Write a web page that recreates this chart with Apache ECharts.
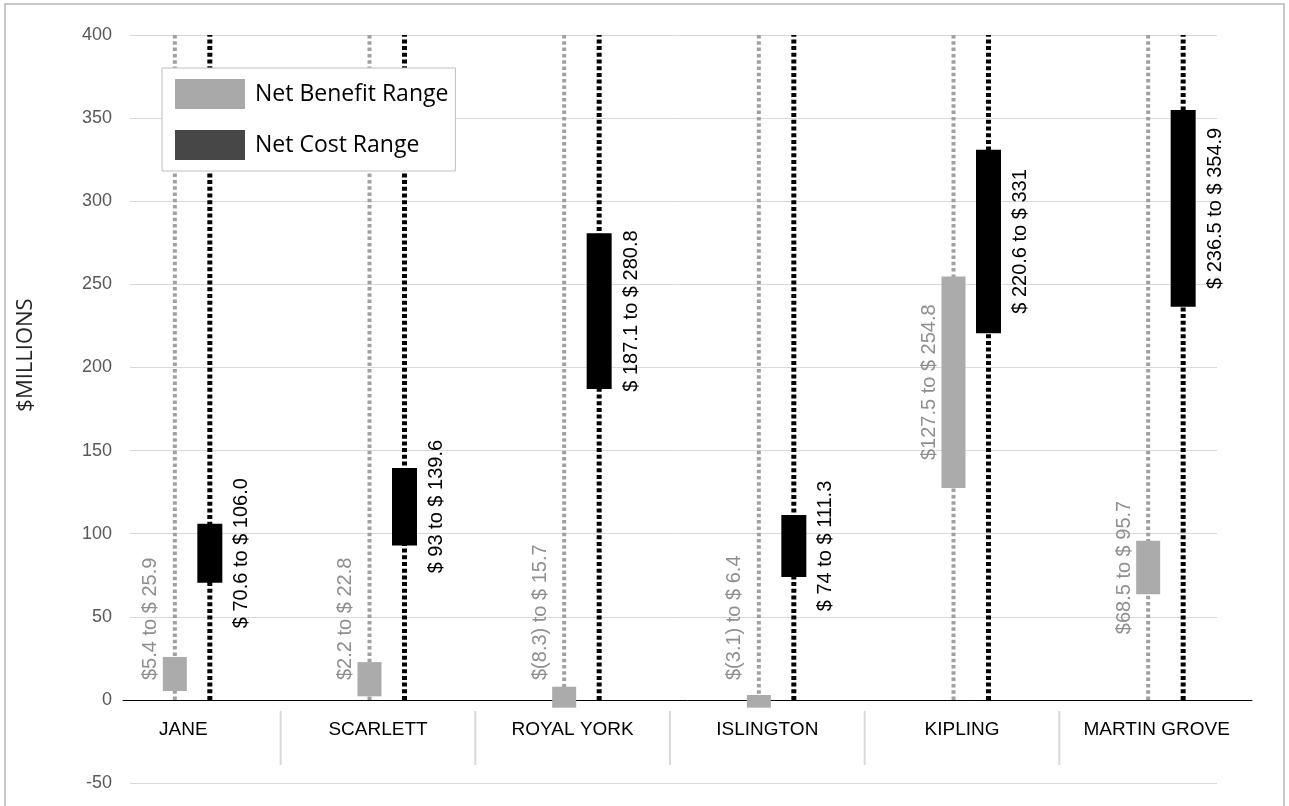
<!DOCTYPE html>
<html>
<head>
<meta charset="utf-8">
<script src="https://cdn.jsdelivr.net/npm/echarts@6/dist/echarts.min.js"></script>
<style>
html,body{margin:0;padding:0;background:#fff;}
#chart{width:1289px;height:806px;}
</style>
</head>
<body>
<div id="chart"></div>
<script>
// ---- data ----
const categories = ['JANE', 'SCARLETT', 'ROYAL YORK', 'ISLINGTON', 'KIPLING', 'MARTIN GROVE'];
const benefitLow  = [5.4, 2.2, -4.6, -4.6, 127.5, 63.6];
const benefitHigh = [25.9, 22.8, 8.0, 3.0, 254.8, 95.8];
const benefitLabels = ['$5.4 to $ 25.9', '$2.2 to $ 22.8', '$(8.3) to $ 15.7', '$(3.1) to $ 6.4', '$127.5 to $ 254.8', '$68.5 to $ 95.7'];
const costLow  = [70.6, 93, 187.1, 74, 220.6, 236.5];
const costHigh = [106.0, 139.6, 280.8, 111.3, 331, 354.9];
const costLabels = ['$ 70.6 to $ 106.0', '$ 93 to $ 139.6', '$ 187.1 to $ 280.8', '$ 74 to $ 111.3', '$ 220.6 to $ 331', '$ 236.5 to $ 354.9'];
const yMin = -50, yMax = 400, yInterval = 50;
const seriesNames = ['Net Benefit Range', 'Net Cost Range'];

// ---- helpers ----
const LABEL_FONT = '20px "Liberation Sans", Arial, sans-serif';
const mctx = document.createElement('canvas').getContext('2d');
function textW(t) { mctx.font = LABEL_FONT; return mctx.measureText(t).width; }
const PAIR_SHIFT = 9;

function makeRender(lows, highs, labels, cfg) {
  return function (params, api) {
    const i = api.value(0);
    const zero = api.coord([i, 0]);
    const top = api.coord([i, yMax]);
    const pLow = api.coord([i, api.value(1)]);
    const pHigh = api.coord([i, api.value(2)]);
    const x = zero[0] + PAIR_SHIFT + cfg.offset;
    const label = labels[i];
    const w = textW(label);
    let cy = (pLow[1] + pHigh[1]) / 2;
    if (cfg.clamp && cy + w / 2 > zero[1] - 20) cy = zero[1] - 20 - w / 2;
    return {
      type: 'group',
      children: [
        { type: 'line', shape: { x1: x, y1: zero[1], x2: x, y2: top[1] },
          style: { stroke: cfg.lineColor, lineWidth: cfg.lineWidth, lineDash: cfg.dash, lineCap: 'butt' } },
        { type: 'rect', shape: { x: x - cfg.barW / 2, y: pHigh[1], width: cfg.barW, height: pLow[1] - pHigh[1] },
          style: { fill: cfg.barColor } },
        { type: 'text', x: x + cfg.labelDx, y: cy, rotation: Math.PI / 2,
          style: { text: label, font: LABEL_FONT, fill: cfg.textColor, align: 'center', verticalAlign: 'middle' } }
      ]
    };
  };
}

function separatorRender(params, api) {
  const i = api.value(0);
  const c = api.coord([i, 0]);
  const band = api.size([1, 0])[0];
  const x = c[0] + band / 2;
  return { type: 'line', shape: { x1: x, y1: c[1] + 11, x2: x, y2: c[1] + 65 },
           style: { stroke: '#d9d9d9', lineWidth: 2 } };
}

const benefitData = categories.map((c, i) => [i, benefitLow[i], benefitHigh[i]]);
const costData = categories.map((c, i) => [i, costLow[i], costHigh[i]]);
const sepData = categories.slice(0, -1).map((c, i) => [i, 0]);

const chart = echarts.init(document.getElementById('chart'));
chart.setOption({
  animation: false,
  backgroundColor: '#fff',
  grid: [
    // full-range grid carrying the y axis and its gridlines (-50 .. 400)
    { left: 130, right: 72, top: 35, bottom: 23, outerBoundsMode: 'none', containLabel: false },
    // category grid whose bottom edge is the zero line (0 .. 400)
    { left: 86, right: 35, top: 35, bottom: 106, outerBoundsMode: 'none', containLabel: false },
    // grid only used to draw the zero axis line
    { left: 123, right: 37, top: 35, bottom: 106, outerBoundsMode: 'none', containLabel: false }
  ],
  xAxis: [
    { type: 'value', gridIndex: 0, show: false, min: 0, max: 1 },
    { type: 'category', gridIndex: 1, data: categories, boundaryGap: true, position: 'bottom',
      axisLine: { show: false, onZero: false },
      axisTick: { show: false },
      axisLabel: { color: '#000', fontSize: 19, margin: 20, fontFamily: '"Liberation Sans", Arial, sans-serif' } },
    { type: 'value', gridIndex: 2, min: 0, max: 1, position: 'bottom',
      axisLine: { show: true, onZero: false, lineStyle: { color: '#000', width: 1 } },
      axisTick: { show: false }, axisLabel: { show: false }, splitLine: { show: false } }
  ],
  yAxis: [
    { type: 'value', gridIndex: 0, min: yMin, max: yMax, interval: yInterval,
      axisLine: { show: false }, axisTick: { show: false },
      axisLabel: { color: '#595959', fontSize: 18, margin: 18, fontFamily: '"Liberation Sans", Arial, sans-serif' },
      splitLine: { lineStyle: { color: '#d9d9d9', width: 1 } } },
    { type: 'value', gridIndex: 1, min: 0, max: yMax, interval: yInterval, show: false,
      splitLine: { show: false } },
    { type: 'value', gridIndex: 2, min: 0, max: yMax, show: false, splitLine: { show: false } }
  ],
  legend: {
    orient: 'vertical', left: 162, top: 68,
    padding: [11, 7, 11, 13], itemGap: 21, itemWidth: 70, itemHeight: 30,
    borderColor: '#c0c0c0', borderWidth: 1, backgroundColor: '#fff',
    icon: 'rect',
    textStyle: { fontSize: 23, color: '#000', fontFamily: '"Open Sans", "Noto Sans", sans-serif', padding: [0, 0, 0, 5] },
    data: [
      { name: seriesNames[0], itemStyle: { color: '#a9a9a9' } },
      { name: seriesNames[1], itemStyle: { color: '#474747' } }
    ]
  },
  graphic: [
    { type: 'rect', shape: { x: 5, y: 4, width: 1279, height: 812 }, style: { fill: 'none', stroke: '#c8c8c8', lineWidth: 2 }, z: 100 },
    { type: 'text', x: 26, y: 355, rotation: Math.PI / 2,
      style: { text: '$MILLIONS', font: '22px "Open Sans", "Noto Sans", sans-serif', fill: '#262626', align: 'center', verticalAlign: 'middle' } }
  ],
  series: [
    { type: 'custom', name: 'sep', xAxisIndex: 1, yAxisIndex: 1, data: sepData, renderItem: separatorRender, silent: true, clip: false },
    { type: 'custom', name: seriesNames[0], xAxisIndex: 1, yAxisIndex: 1, data: benefitData, clip: false,
      itemStyle: { color: '#a9a9a9' },
      renderItem: makeRender(benefitLow, benefitHigh, benefitLabels, {
        offset: -17.5, barW: 24, barColor: '#ababab', lineColor: '#a0a0a0', lineWidth: 4, dash: [3.5, 2.8],
        textColor: '#8f8f8f', labelDx: -24, clamp: true }) },
    { type: 'custom', name: seriesNames[1], xAxisIndex: 1, yAxisIndex: 1, data: costData, clip: false,
      itemStyle: { color: '#474747' },
      renderItem: makeRender(costLow, costHigh, costLabels, {
        offset: 17.5, barW: 25, barColor: '#000', lineColor: '#000', lineWidth: 5, dash: [4, 2.7],
        textColor: '#000', labelDx: 32, clamp: false }) }
  ]
});
</script>
</body>
</html>
